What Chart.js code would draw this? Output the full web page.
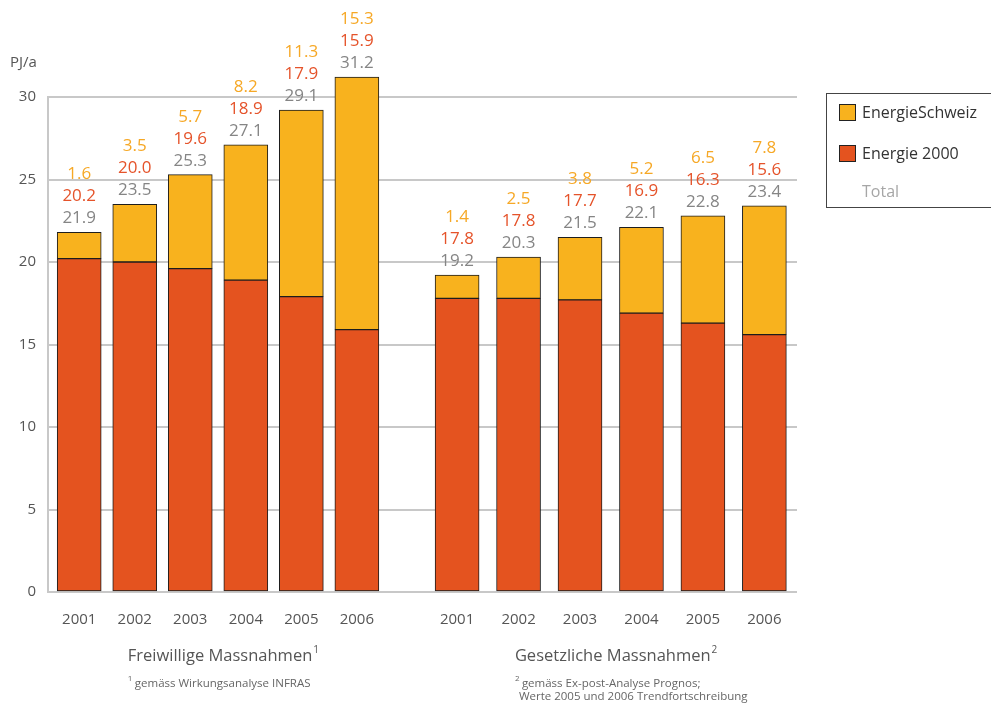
<!DOCTYPE html>
<html>
<head>
<meta charset="utf-8">
<script src="https://cdn.jsdelivr.net/npm/chart.js@4/dist/chart.umd.min.js"></script>
<style>
  html, body { margin: 0; padding: 0; background: #fff; }
  #wrap { width: 991px; height: 709px; }
</style>
</head>
<body>
<div id="wrap"><canvas id="c" width="991" height="709"></canvas></div>
<script>
// data
const years = ['2001', '2002', '2003', '2004', '2005', '2006'];

const freiwilligE2000 = [20.2, 20.0, 19.6, 18.9, 17.9, 15.9];
const freiwilligES = [1.6, 3.5, 5.7, 8.2, 11.3, 15.3];
const freiwilligTotal = ['21.9', '23.5', '25.3', '27.1', '29.1', '31.2'];

const gesetzlichE2000 = [17.8, 17.8, 17.7, 16.9, 16.3, 15.6];
const gesetzlichES = [1.4, 2.5, 3.8, 5.2, 6.5, 7.8];
const gesetzlichTotal = ['19.2', '20.3', '21.5', '22.1', '22.8', '23.4'];

const yTicks = [0, 5, 10, 15, 20, 25, 30];

const seriesNames = ['EnergieSchweiz', 'Energie 2000', 'Total'];
const groupTitles = ['Freiwillige Massnahmen', 'Gesetzliche Massnahmen'];
const footnotes = [
    ['gemäss Wirkungsanalyse INFRAS'],
    ['gemäss Ex-post-Analyse Prognos;', 'Werte 2005 und 2006 Trendfortschreibung']
];

const colES = '#f8b21e';
const colE2000 = '#e4531f';
const colESText = '#f6a826';
const colE2000Text = '#e5532a';
const colTotalText = '#858585';
const FONT = '"Open Sans", "Noto Sans", sans-serif';

const pts = arr => arr.map((v, i) => ({x: i, y: v}));

function bars(label, values, color, axis) {
    return {
        label: label,
        data: pts(values),
        backgroundColor: color,
        borderColor: '#1d1d1d',
        borderWidth: 1,
        borderSkipped: false,
        barThickness: 44,
        grouped: false,
        clip: false,
        xAxisID: axis,
        yAxisID: 'y'
    };
}

const groups = [
    {axis: 'x1', e2000: 0, es: 1, totals: freiwilligTotal, e: freiwilligE2000, s: freiwilligES},
    {axis: 'x2', e2000: 2, es: 3, totals: gesetzlichTotal, e: gesetzlichE2000, s: gesetzlichES}
];

const textPlugin = {
    id: 'texts',
    afterDatasetsDraw(chart) {
        const ctx = chart.ctx;
        ctx.save();

        // unit
        ctx.fillStyle = '#555';
        ctx.font = '15px ' + FONT;
        ctx.textAlign = 'left';
        ctx.textBaseline = 'middle';
        ctx.fillText('PJ/a', 10, 63);

        groups.forEach((g, gi) => {
            const esMeta = chart.getDatasetMeta(g.es);
            const xs = esMeta.data.map(b => b.x);

            // values above bars
            ctx.font = '17px ' + FONT;
            ctx.textAlign = 'center';
            ctx.textBaseline = 'alphabetic';
            esMeta.data.forEach((bar, i) => {
                const top = bar.y;
                ctx.fillStyle = colTotalText;
                ctx.fillText(g.totals[i], bar.x, top - 9);
                ctx.fillStyle = colE2000Text;
                ctx.fillText(g.e[i].toFixed(1), bar.x, top - 31);
                ctx.fillStyle = colESText;
                ctx.fillText(g.s[i].toFixed(1), bar.x, top - 53);
            });

            // year labels
            ctx.fillStyle = '#555';
            ctx.font = '15px ' + FONT;
            ctx.textBaseline = 'middle';
            xs.forEach((x, i) => ctx.fillText(years[i], x, 620));

            // group title with superscript
            const mid = (xs[0] + xs[xs.length - 1]) / 2 + 2;
            ctx.font = '16.5px ' + FONT;
            const w = ctx.measureText(groupTitles[gi]).width;
            const left = mid - w / 2;
            ctx.textAlign = 'left';
            ctx.fillText(groupTitles[gi], left, 656);
            ctx.font = '10px ' + FONT;
            ctx.fillText(String(gi + 1), left + w + 1, 650);

            // footnotes
            ctx.fillStyle = '#666';
            ctx.font = '8px ' + FONT;
            ctx.fillText(String(gi + 1), left, 679);
            ctx.font = '11.5px ' + FONT;
            footnotes[gi].forEach((line, li) => {
                ctx.fillText(line, left + (li === 0 ? 7 : 4), 684 + li * 13);
            });
        });

        // legend box
        ctx.strokeStyle = '#444';
        ctx.lineWidth = 1;
        ctx.strokeRect(826.5, 93.5, 200, 114);
        const items = [
            {fill: colES, y: 113},
            {fill: colE2000, y: 154},
            {fill: null, y: 192}
        ];
        ctx.font = '16px ' + FONT;
        ctx.textBaseline = 'middle';
        ctx.textAlign = 'left';
        items.forEach((it, i) => {
            if (it.fill) {
                ctx.fillStyle = it.fill;
                ctx.fillRect(839.5, it.y - 8.5, 16, 16);
                ctx.strokeStyle = '#222';
                ctx.strokeRect(839.5, it.y - 8.5, 16, 16);
                ctx.fillStyle = '#333';
            } else {
                ctx.fillStyle = '#a6a6a6';
            }
            ctx.fillText(seriesNames[i], 862, it.y);
        });

        ctx.restore();
    }
};

new Chart(document.getElementById('c'), {
    type: 'bar',
    data: {
        datasets: [
            bars(seriesNames[1], freiwilligE2000, colE2000, 'x1'),
            bars(seriesNames[0], freiwilligES, colES, 'x1'),
            bars(seriesNames[1], gesetzlichE2000, colE2000, 'x2'),
            bars(seriesNames[0], gesetzlichES, colES, 'x2')
        ]
    },
    options: {
        responsive: false,
        animation: false,
        layout: {padding: {left: 0, right: 194, top: 97, bottom: 117}},
        plugins: {legend: {display: false}, tooltip: {enabled: false}},
        scales: {
            x1: {type: 'linear', display: false, stacked: true, offset: false, min: -0.562, max: 12.926},
            x2: {type: 'linear', display: false, stacked: true, offset: false, min: -6.657, max: 5.531},
            y: {
                position: 'left',
                stacked: true,
                min: 0,
                max: 30,
                afterFit: s => { s.width = 48; },
                afterBuildTicks: s => { s.ticks = yTicks.map(v => ({value: v})); },
                grid: {color: '#c8c8c8', lineWidth: 2, drawTicks: false},
                border: {color: '#c8c8c8', width: 2},
                ticks: {color: '#555', padding: 12, font: {family: FONT, size: 15}}
            }
        }
    },
    plugins: [textPlugin]
});
</script>
</body>
</html>
